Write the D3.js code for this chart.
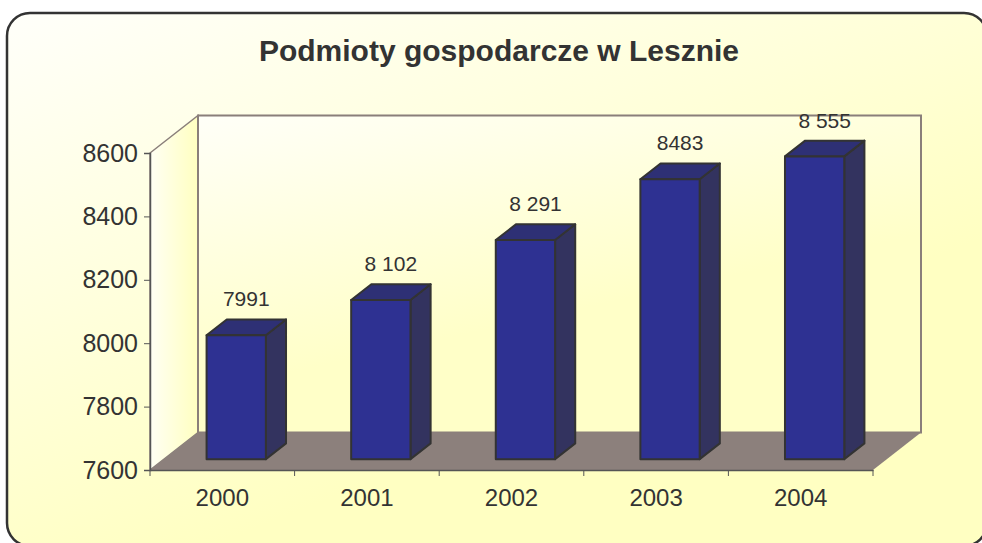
<!DOCTYPE html>
<html>
<head>
<meta charset="utf-8">
<script src="https://cdn.jsdelivr.net/npm/d3@7"></script>
<style>
  body { margin: 0; background: #fff; }
  svg { display: block; font-family: Arial, "Liberation Sans", sans-serif; }
</style>
</head>
<body>
<div id="chart"></div>
<script>
// data
const years = ["2000", "2001", "2002", "2003", "2004"];
const values = [7991, 8102, 8291, 8483, 8555];
const valueLabels = ["7991", "8 102", "8 291", "8483", "8 555"];
const yTicks = [7600, 7800, 8000, 8200, 8400, 8600];
const title = "Podmioty gospodarcze w Lesznie";

window.onload = () => {
  const width = 982, height = 543;
  const DX = 48, DY = 37.5;         // 3d depth offset of floor
  const zFront = 0.29, zBack = 0.71; // bar position inside depth

  const svg = d3.select("#chart").append("svg")
    .attr("width", width).attr("height", height);

  const defs = svg.append("defs");
  const bg = defs.append("linearGradient").attr("id", "bg")
    .attr("x1", 0).attr("y1", 0).attr("x2", 0.55).attr("y2", 0.75);
  bg.append("stop").attr("offset", 0).attr("stop-color", "#fffffa");
  bg.append("stop").attr("offset", 1).attr("stop-color", "#ffffc2");

  const wallL = defs.append("linearGradient").attr("id", "wallL")
    .attr("x1", 0).attr("y1", 0).attr("x2", 1).attr("y2", 0);
  wallL.append("stop").attr("offset", 0).attr("stop-color", "#fffff4");
  wallL.append("stop").attr("offset", 1).attr("stop-color", "#ffffc0");

  const wallB = defs.append("linearGradient").attr("id", "wallB")
    .attr("x1", 0).attr("y1", 0).attr("x2", 0.5).attr("y2", 1);
  wallB.append("stop").attr("offset", 0).attr("stop-color", "#fffff8");
  wallB.append("stop").attr("offset", 0.7).attr("stop-color", "#ffffc8");

  // frame
  svg.append("rect")
    .attr("x", 7).attr("y", 13)
    .attr("width", 980).attr("height", 533)
    .attr("rx", 23).attr("ry", 23)
    .attr("fill", "url(#bg)")
    .attr("stroke", "#333")
    .attr("stroke-width", 2.5);

  // title
  svg.append("text")
    .attr("x", 499).attr("y", 61)
    .attr("text-anchor", "middle")
    .style("font-size", "30px").style("font-weight", "bold")
    .attr("fill", "#333")
    .text(title);

  // --- SCALES ---
  const x = d3.scaleBand().domain(years).range([150, 873]).padding(0);
  const y = d3.scaleLinear().domain([7600, 8600]).range([470, 153]);

  const x0 = x.range()[0], x1 = x.range()[1];
  const yTop = y(8600), yBot = y(7600);

  // walls and floor
  svg.append("polygon")
    .attr("points", [[x0, yTop], [x0 + DX, yTop - DY], [x0 + DX, yBot - DY], [x0, yBot]].join(" "))
    .attr("fill", "url(#wallL)").attr("stroke", "#8a7f7a").attr("stroke-width", 1.5);

  svg.append("rect")
    .attr("x", x0 + DX).attr("y", yTop - DY)
    .attr("width", x1 - x0).attr("height", yBot - yTop)
    .attr("fill", "url(#wallB)").attr("stroke", "#8a7f7a").attr("stroke-width", 2);

  svg.append("polygon")
    .attr("points", [[x0, yBot], [x0 + DX, yBot - DY], [x1 + DX, yBot - DY], [x1, yBot]].join(" "))
    .attr("fill", "#8c807c");

  // --- BARS ---
  const barW = x.bandwidth() * 0.41;
  const bars = svg.append("g");
  values.forEach((v, i) => {
    const cx = x(years[i]) + x.bandwidth() / 2;
    const fx = cx - barW / 2 + zFront * DX;
    const bx = cx - barW / 2 + zBack * DX;
    const fTop = y(v) - zFront * DY, fBot = y(7600) - zFront * DY;
    const bTop = y(v) - zBack * DY, bBot = y(7600) - zBack * DY;
    const g = bars.append("g")
      .attr("stroke", "#333").attr("stroke-width", 2).attr("stroke-linejoin", "round");
    // side
    g.append("polygon")
      .attr("points", [[fx + barW, fTop], [bx + barW, bTop], [bx + barW, bBot], [fx + barW, fBot]].join(" "))
      .attr("fill", "#33335f");
    // top
    g.append("polygon")
      .attr("points", [[fx, fTop], [bx, bTop], [bx + barW, bTop], [fx + barW, fTop]].join(" "))
      .attr("fill", "#2e3075");
    // front
    g.append("rect")
      .attr("x", fx).attr("y", fTop)
      .attr("width", barW).attr("height", fBot - fTop)
      .attr("fill", "#2e3192");

    svg.append("text")
      .attr("x", (fx + bx + barW) / 2)
      .attr("y", bTop - 13)
      .attr("text-anchor", "middle")
      .attr("fill", "#333")
      .style("font-size", "21px")
      .text(valueLabels[i]);
  });

  // --- AXES ---
  const yAxis = svg.append("g")
    .attr("transform", `translate(${x0},0)`)
    .call(d3.axisLeft(y).tickValues(yTicks).tickSize(6).tickPadding(6).tickFormat(d3.format("d")));
  yAxis.select(".domain").attr("stroke", "#555").attr("stroke-width", 1.5);
  yAxis.selectAll(".tick line").attr("stroke", "#555");
  yAxis.selectAll("text").attr("fill", "#333").style("font-size", "25px")
    .style("font-family", "Arial, 'Liberation Sans', sans-serif");

  const xAxis = svg.append("g")
    .attr("transform", `translate(0,${yBot})`)
    .call(d3.axisBottom(x).tickSize(0).tickPadding(19));
  xAxis.select(".domain").attr("stroke", "#555").attr("stroke-width", 1.5);
  xAxis.selectAll("text").attr("fill", "#333").style("font-size", "24px")
    .style("font-family", "Arial, 'Liberation Sans', sans-serif");

  // category boundary ticks
  const bounds = years.map(d => x(d)).concat([x1]);
  xAxis.selectAll(".bound").data(bounds).enter().append("line")
    .attr("class", "bound")
    .attr("x1", d => d).attr("x2", d => d)
    .attr("y1", 0).attr("y2", 6)
    .attr("stroke", "#555");
};
</script>
</body>
</html>
